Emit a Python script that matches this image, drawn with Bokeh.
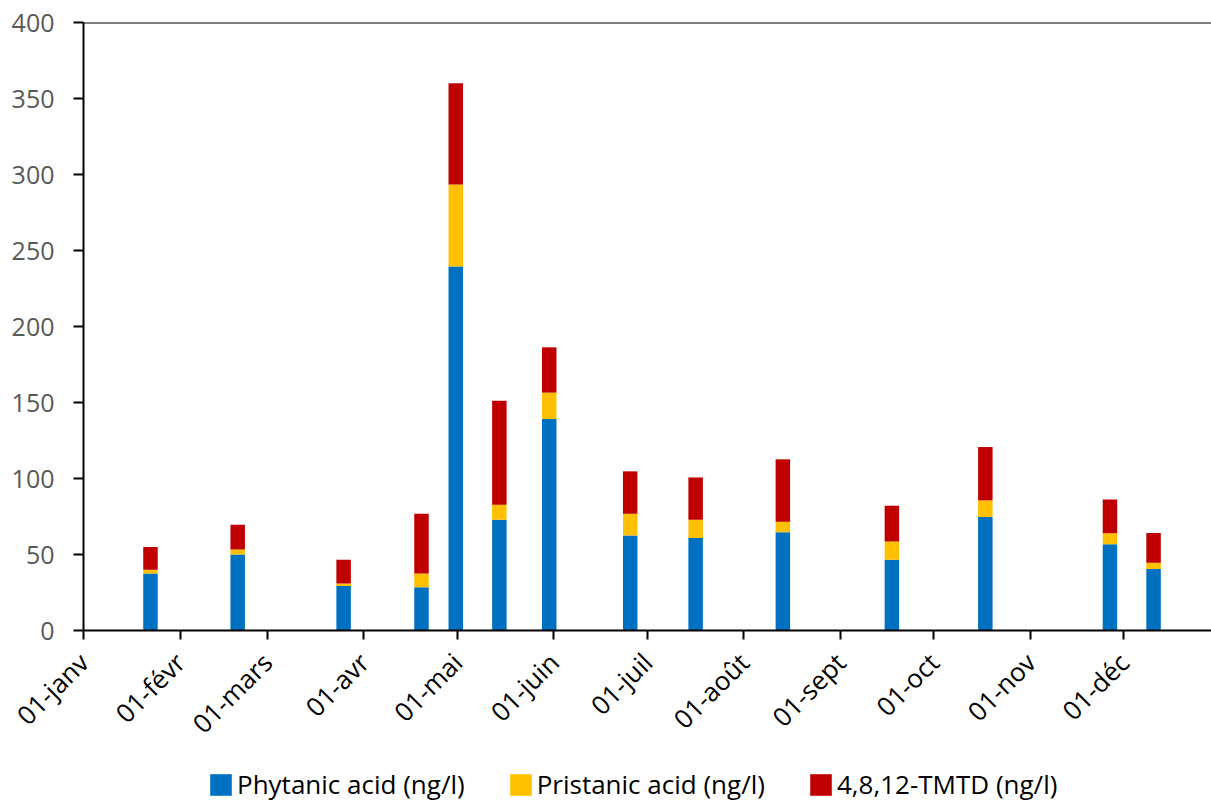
from math import pi
import pandas as pd
from bokeh.plotting import figure
from bokeh.layouts import column
from bokeh.models import ColumnDataSource, Range1d, FixedTicker, Legend, LegendItem, Span
from bokeh.embed import file_html
from bokeh.resources import INLINE

# ---- data ----
dates = ["2019-01-22", "2019-02-19", "2019-03-25", "2019-04-19", "2019-04-30",
         "2019-05-14", "2019-05-30", "2019-06-25", "2019-07-16", "2019-08-13",
         "2019-09-17", "2019-10-17", "2019-11-26", "2019-12-10"]
phytanic = [37.5, 50.0, 29.2, 28.5, 239.5, 72.9, 139.1, 62.5, 60.8, 64.7, 46.5, 74.6, 56.8, 40.4]
pristanic = [2.5, 3.3, 1.8, 9.0, 54.0, 9.9, 17.4, 14.3, 12.1, 6.9, 12.1, 11.0, 7.1, 4.2]
tmtd = [15.0, 16.2, 15.5, 39.3, 66.5, 68.4, 29.8, 27.9, 27.8, 41.0, 23.5, 35.1, 22.3, 19.5]
series = ["Phytanic acid (ng/l)", "Pristanic acid (ng/l)", "4,8,12-TMTD (ng/l)"]
colors = ["#0070C0", "#FFC000", "#C00000"]
month_labels = ["01-janv", "01-févr", "01-mars", "01-avr", "01-mai", "01-juin",
                "01-juil", "01-août", "01-sept", "01-oct", "01-nov", "01-déc"]
y_ticks = [0, 50, 100, 150, 200, 250, 300, 350, 400]

FONT = "Open Sans"

# ---- build ----
year_start = pd.Timestamp("2019-01-01")
month_starts = pd.date_range(year_start, periods=12, freq="MS")
month_ms = [t.timestamp() * 1000.0 for t in month_starts]

x = pd.to_datetime(dates) + pd.Timedelta(hours=12)
src = ColumnDataSource(dict(x=x, p1=phytanic, p2=pristanic, p3=tmtd))

p = figure(width=1211, height=757, x_axis_type="datetime",
           x_range=Range1d(year_start, year_start + pd.Timedelta(days=362.1)),
           y_range=Range1d(0, 400),
           output_backend="svg", toolbar_location=None,
           min_border_left=83, min_border_right=0, min_border_top=22, min_border_bottom=127)
p.background_fill_color = "white"
p.border_fill_color = "white"
p.outline_line_color = None
p.xgrid.grid_line_color = None
p.ygrid.grid_line_color = None

rs = p.vbar_stack(["p1", "p2", "p3"], x="x", width=4.65 * 86400000, color=colors,
                  source=src, line_width=0)

# x axis
xa = p.xaxis[0]
xa.ticker = FixedTicker(ticks=month_ms)
xa.major_label_overrides = {m: lab for m, lab in zip(month_ms, month_labels)}
xa.major_label_orientation = pi / 4
xa.major_label_text_font = FONT
xa.major_label_text_font_size = "26px"
xa.major_label_text_color = "black"
xa.major_label_standoff = 18
xa.axis_line_color = "black"
xa.axis_line_width = 2
xa.major_tick_line_color = "black"
xa.major_tick_line_width = 2
xa.major_tick_out = 9
xa.major_tick_in = 0
xa.minor_tick_line_color = None

# y axis
ya = p.yaxis[0]
ya.ticker = FixedTicker(ticks=y_ticks)
ya.major_label_text_font = FONT
ya.major_label_text_font_size = "25px"
ya.major_label_text_color = "#595959"
ya.major_label_standoff = 19
ya.axis_line_color = "black"
ya.axis_line_width = 2
ya.major_tick_line_color = "black"
ya.major_tick_line_width = 2
ya.major_tick_out = 10
ya.major_tick_in = 0
ya.minor_tick_line_color = None

# top border line
p.add_layout(Span(location=400, dimension="width", line_color="black", line_width=2))

# ---- legend strip ----
pl = figure(width=1211, height=45, output_backend="svg", toolbar_location=None,
            x_axis_location=None, y_axis_location=None,
            x_range=Range1d(0, 1), y_range=Range1d(0, 1), min_border=0)
pl.outline_line_color = None
pl.xgrid.grid_line_color = None
pl.ygrid.grid_line_color = None
pl.background_fill_color = "white"
pl.border_fill_color = "white"
# zero-height placeholder renderers that only feed the legend swatches
dummies = [pl.vbar(x=[0.5], top=[0], width=0.01, color=c, line_width=0) for c in colors]

legend = Legend(items=[LegendItem(label=s, renderers=[r]) for s, r in zip(series, dummies)],
                orientation="horizontal", location=(124, 0),
                glyph_width=27, glyph_height=27, label_standoff=3, spacing=42,
                padding=0, margin=0, border_line_color=None, background_fill_alpha=0,
                label_text_font=FONT, label_text_font_size="26px",
                label_text_color="black")
pl.add_layout(legend)

layout = column(p, pl, spacing=0)
open("out.html", "w").write(file_html(layout, INLINE))
